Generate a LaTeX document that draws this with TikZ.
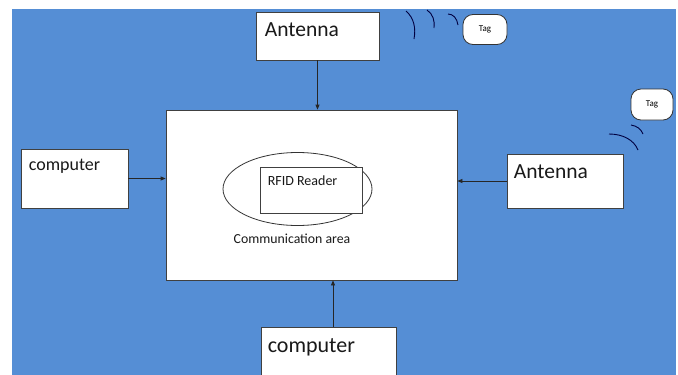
\documentclass[tikz,border=0pt]{standalone}
\usepackage{fontspec}
\setmainfont{Carlito}
\usetikzlibrary{arrows.meta,shapes.geometric}
\definecolor{bluebg}{RGB}{85,142,213}
\tikzset{
  box/.style={draw=black!75, line width=0.8pt, fill=white, inner sep=0pt, rectangle},
  tagbox/.style={draw=black!80, line width=0.8pt, fill=white, inner sep=0pt, rounded corners=10pt, font=\fontsize{9}{10}\selectfont},
  arr/.style={draw=black!85, line width=0.8pt, -{Triangle[length=5pt,width=4pt]}},
  wave/.style={draw=black!75!blue, line width=0.9pt},
  lbl/.style={anchor=north west, inner sep=0pt, text=black!90}
}
\begin{document}
\begin{tikzpicture}[x=1pt,y=-1pt]
\useasboundingbox (0,0) rectangle (678,375);
\fill[bluebg] (12,9) rectangle (676,375);
% main box
\node[box, minimum width=291pt, minimum height=170pt] (main) at (311.5,195) {};
\node[draw=black!80, line width=0.8pt, ellipse, minimum width=149pt, minimum height=73pt, inner sep=0pt] (area) at (297.5,189) {};
\node[box, minimum width=102pt, minimum height=46pt] (reader) at (311,190) {};
\node[lbl, font=\fontsize{14}{15}\selectfont] (readert) at ([shift={(8,9)}]reader.north west) {RFID Reader};
\node[anchor=north, inner sep=0pt, font=\fontsize{13.8}{15}\selectfont, text=black!90] (areat) at (292,234) {Communication area};
% top antenna
\node[box, minimum width=123pt, minimum height=48pt] (ant1) at (317.5,36) {};
\node[lbl, font=\fontsize{21.5}{24}\selectfont] (ant1t) at ([shift={(9,11)}]ant1.north west) {Antenna};
% right antenna
\node[box, minimum width=116pt, minimum height=54pt] (ant2) at (565,181) {};
\node[lbl, font=\fontsize{21.5}{24}\selectfont] (ant2t) at ([shift={(7,11)}]ant2.north west) {Antenna};
% left computer
\node[box, minimum width=107pt, minimum height=59pt] (comp1) at (74.5,178.5) {};
\node[lbl, font=\fontsize{18}{20}\selectfont] (comp1t) at ([shift={(8,10)}]comp1.north west) {computer};
% bottom computer
\node[box, minimum width=135pt, minimum height=60pt] (comp2) at (328.5,357) {};
\node[lbl, font=\fontsize{22}{24}\selectfont] (comp2t) at ([shift={(7,12)}]comp2.north west) {computer};
% tags
\node[tagbox, minimum width=44pt, minimum height=30pt] (tag1) at (485,29.5) {Tag};
\node[tagbox, minimum width=42pt, minimum height=31pt] (tag2) at (652,104.5) {Tag};
% arrows
\draw[arr] (ant1.south) -- (ant1.south |- main.north);
\draw[arr] (comp1.east) -- (comp1.east -| main.west);
\draw[arr] (ant2.west) -- (ant2.west -| main.east);
\draw[arr] ([xshift=4.5pt]comp2.north) -- ([xshift=4.5pt]comp2.north |- main.south);
% waves near top tag
\draw[wave] (406,11) .. controls (414,18) and (416,28) .. (414,39);
\draw[wave] (427,10) .. controls (433,14) and (435,21) .. (434,28);
\draw[wave] (448,14) .. controls (453,14) and (457,18) .. (458,25);
% waves near right tag
\draw[wave] (631,125) .. controls (637,126) and (641,129) .. (643,134);
\draw[wave] (609,134) .. controls (623,134) and (634,140) .. (638,150);
\end{tikzpicture}
\end{document}
